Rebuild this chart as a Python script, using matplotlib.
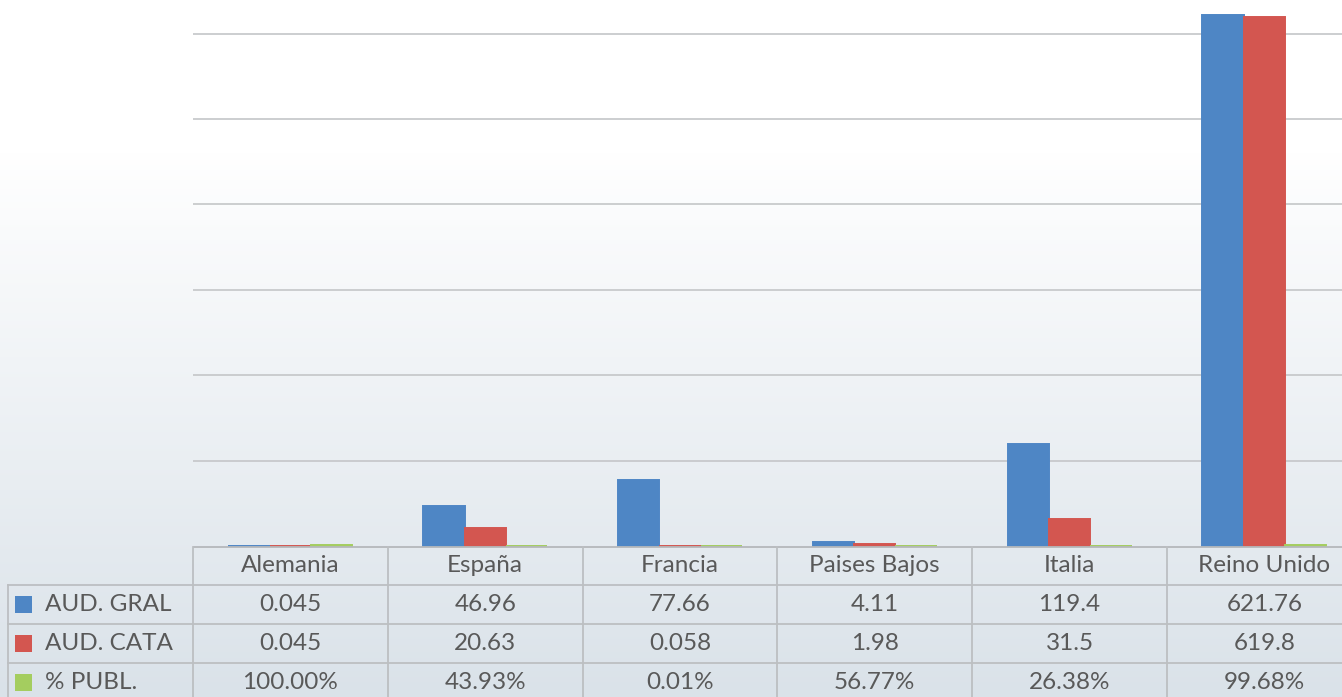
import numpy as np
import matplotlib
matplotlib.use("Agg")
import matplotlib.pyplot as plt
from matplotlib.colors import LinearSegmentedColormap

plt.rcParams['font.family'] = ['Lato', 'DejaVu Sans']

countries = ["Alemania", "España", "Francia", "Paises Bajos", "Italia", "Reino Unido"]
aud_gral = [0.045, 46.96, 77.66, 4.11, 119.4, 621.76]
aud_cata = [0.045, 20.63, 0.058, 1.98, 31.5, 619.8]
pct_publ = [100.00, 43.93, 0.01, 56.77, 26.38, 99.68]

series_names = ["AUD. GRAL", "AUD. CATA", "% PUBL."]
colors = ["#4e86c5", "#d35650", "#a4cd5f"]
grid_ticks = [100, 200, 300, 400, 500, 600]

W, H = 1342, 697
fig = plt.figure(figsize=(W / 100, H / 100), dpi=100)

# background gradient (white at top to light blue-grey at bottom)
bg = fig.add_axes([0, 0, 1, 1], zorder=-10)
grad = np.ones((H, 1))
ys = np.arange(H)
grad[:, 0] = np.clip((ys - 150) / (H - 150), 0, 1)
cmap = LinearSegmentedColormap.from_list("bg", ["#ffffff", "#dae2e9"])
bg.imshow(grad, aspect="auto", cmap=cmap, extent=[0, 1, 0, 1], origin="upper")
bg.axis("off")

# main chart (right part is cut off by the picture edge, as in the original)
base_px = 546
left_px = 193
unit_px = 194.8
px_per_val = 0.8538
pad_px = 3
n = len(countries)
ax = fig.add_axes([left_px / W, (H - base_px - pad_px) / H, n * unit_px / W, (base_px + pad_px) / H])
ax.patch.set_alpha(0)
x = np.arange(n)
bw = 0.212
series = [aud_gral, aud_cata, [v / 100 for v in pct_publ]]
for k, (vals, c) in enumerate(zip(series, colors)):
    ax.bar(x + (k - 1) * bw, vals, width=bw, color=c, edgecolor=c, linewidth=1.4, zorder=3)
ax.set_xlim(-0.5, n - 0.5)
ax.set_ylim(-pad_px / px_per_val, base_px / px_per_val)
for t in grid_ticks:
    ax.axhline(t, color="#c4c6c8", linewidth=1.2, zorder=1)
ax.axhline(-0.6, color="#b5b8bb", linewidth=1.3, zorder=4)
ax.set_xticks([])
ax.set_yticks([])
for s in ax.spines.values():
    s.set_visible(False)

# data table
tx0 = -0.5 - left_px / unit_px
tab = fig.add_axes([0, 0, (left_px + n * unit_px) / W, (H - base_px) / H])
tab.patch.set_alpha(0)
tab.set_xlim(tx0, n - 0.5)
tab.set_ylim(H, base_px)
tab.axis("off")

row_h = 39
lc = "#bcbfc2"
txt_c = "#595959"
fs = 17.5
label_left = tx0 + 8 / unit_px

# header row
for i, name in enumerate(countries):
    tab.text(i, base_px + row_h / 2, name, ha="center", va="center", fontsize=fs, color=txt_c)
# vertical lines
for i in range(n + 1):
    tab.plot([i - 0.5, i - 0.5], [base_px + 1, H + 5], color=lc, linewidth=1.3)
tab.plot([label_left, label_left], [base_px + row_h, H + 5], color=lc, linewidth=1.3)
# horizontal lines
for r in range(1, 4):
    y = base_px + r * row_h
    tab.plot([label_left, n - 0.5], [y, y], color=lc, linewidth=1.3)

table_vals = [
    [f"{v:g}" for v in aud_gral],
    [f"{v:g}" for v in aud_cata],
    [f"{v:.2f}%" for v in pct_publ],
]
for r, (name, c, vals) in enumerate(zip(series_names, colors, table_vals)):
    yc = base_px + (r + 1) * row_h + row_h / 2
    tab.add_patch(plt.Rectangle((tx0 + 15 / unit_px, yc - 8.5), 17 / unit_px, 17,
                                facecolor=c, edgecolor="none"))
    tab.text(tx0 + 45 / unit_px, yc, name, ha="left", va="center", fontsize=fs, color=txt_c)
    for i, v in enumerate(vals):
        tab.text(i, yc, v, ha="center", va="center", fontsize=fs, color=txt_c)

fig.savefig("out.png", dpi=100)
